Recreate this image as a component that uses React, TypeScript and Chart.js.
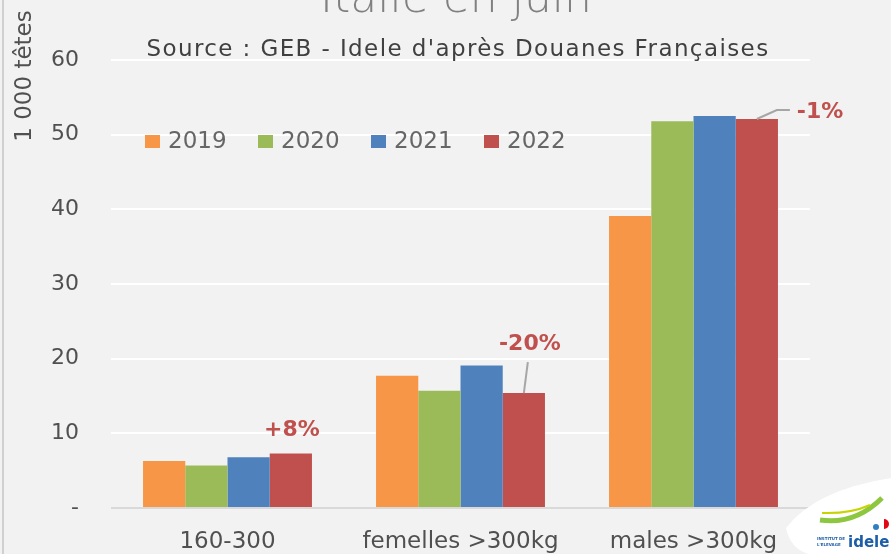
import React, { useEffect, useRef } from "react";
import { Chart, registerables } from "chart.js";

Chart.register(...registerables);

const categories = ["160-300", "femelles >300kg", "males >300kg"];
const years = ["2019", "2020", "2021", "2022"];
const values2019 = [6.3, 17.7, 39.1];
const values2020 = [5.7, 15.7, 51.8];
const values2021 = [6.8, 19.1, 52.5];
const values2022 = [7.3, 15.4, 52.1];
const colors = ["#f79646", "#9bbb59", "#4f81bd", "#c0504d"];
const changeLabels = ["+8%", "-20%", "-1%"];
const yTicks = [0, 10, 20, 30, 40, 50, 60];

const FONT = "'DejaVu Sans', sans-serif";
const TEXT = "#505050";

const decor = {
  id: "decor",
  beforeDraw(chart: any) {
    const { ctx, width, height } = chart;
    ctx.save();
    ctx.fillStyle = "#f2f2f2";
    ctx.fillRect(0, 0, width, height);
    ctx.fillStyle = "#d0d0d0";
    ctx.fillRect(2, 0, 2, height);
    ctx.restore();
  },
  afterDraw(chart: any) {
    const { ctx, chartArea } = chart;
    ctx.save();
    // title (cut off at top)
    ctx.fillStyle = "#808080";
    ctx.font = `200 44px ${FONT}`;
    ctx.textAlign = "center";
    ctx.textBaseline = "alphabetic";
    ctx.fillText("Italie en juin", 456, 12);
    // subtitle
    ctx.fillStyle = "#404040";
    ctx.font = `23px ${FONT}`;
    ctx.textBaseline = "middle";
    (ctx as any).letterSpacing = "1.4px";
    ctx.fillText("Source : GEB - Idele d'après Douanes Françaises", 458, 50);
    (ctx as any).letterSpacing = "0px";
    // y title
    ctx.save();
    ctx.translate(25, 76);
    ctx.rotate(-Math.PI / 2);
    ctx.fillStyle = TEXT;
    ctx.font = `23px ${FONT}`;
    ctx.fillText("1 000 têtes", 0, 0);
    ctx.restore();
    // legend
    const ly = chartArea.top + 81;
    chart.data.datasets.forEach((ds: any, i: number) => {
      const x = 145 + i * 113;
      ctx.fillStyle = ds.backgroundColor;
      ctx.fillRect(x, ly - 6, 15, 13);
      ctx.fillStyle = "#666666";
      ctx.font = `23px ${FONT}`;
      ctx.textAlign = "left";
      ctx.fillText(ds.label, x + 23, ly + 1);
    });
    // annotations on 2022 bars
    const meta = chart.getDatasetMeta(3);
    const bars = meta.data;
    ctx.fillStyle = "#c0504d";
    ctx.font = `bold 22px ${FONT}`;
    ctx.textAlign = "center";
    ctx.fillText(changeLabels[0], bars[0].x + 1, bars[0].y - 23);
    ctx.strokeStyle = "#a6a6a6";
    ctx.lineWidth = 2;
    ctx.beginPath();
    ctx.moveTo(bars[1].x, bars[1].y);
    ctx.lineTo(bars[1].x + 4, bars[1].y - 31);
    ctx.stroke();
    ctx.fillText(changeLabels[1], bars[1].x + 6, bars[1].y - 49);
    ctx.beginPath();
    ctx.moveTo(bars[2].x, bars[2].y);
    ctx.lineTo(bars[2].x + 20, bars[2].y - 9);
    ctx.lineTo(bars[2].x + 33, bars[2].y - 9);
    ctx.stroke();
    ctx.textAlign = "left";
    ctx.fillText(changeLabels[2], bars[2].x + 40, bars[2].y - 7);
    // logo
    ctx.fillStyle = "#ffffff";
    ctx.beginPath();
    ctx.moveTo(891, 478);
    ctx.quadraticCurveTo(815, 490, 786, 528);
    ctx.quadraticCurveTo(790, 548, 808, 554);
    ctx.lineTo(891, 554);
    ctx.closePath();
    ctx.fill();
    ctx.strokeStyle = "#8dc63f";
    ctx.lineWidth = 5;
    ctx.beginPath();
    ctx.moveTo(820, 520);
    ctx.quadraticCurveTo(855, 525, 882, 498);
    ctx.stroke();
    ctx.strokeStyle = "#c8d400";
    ctx.lineWidth = 2;
    ctx.beginPath();
    ctx.moveTo(822, 513);
    ctx.quadraticCurveTo(850, 514, 870, 505);
    ctx.stroke();
    ctx.fillStyle = "#e30613";
    ctx.beginPath();
    ctx.arc(884, 524, 5, -Math.PI / 2, Math.PI / 2);
    ctx.fill();
    ctx.fillStyle = "#2f7fc1";
    ctx.beginPath();
    ctx.arc(876, 527, 3, 0, Math.PI * 2);
    ctx.fill();
    ctx.fillStyle = "#1d5ea8";
    ctx.font = `bold 15px ${FONT}`;
    ctx.textAlign = "left";
    ctx.fillText("idele", 848, 543);
    ctx.font = `bold 4px ${FONT}`;
    ctx.fillText("INSTITUT DE", 817, 539);
    ctx.fillText("L'ELEVAGE", 817, 545);
    ctx.restore();
  },
};

export default function App() {
  const ref = useRef<HTMLCanvasElement>(null);
  useEffect(() => {
    document.body.style.margin = "0";
    const series = [values2019, values2020, values2021, values2022];
    const chart = new Chart(ref.current!, {
      type: "bar",
      data: {
        labels: categories,
        datasets: years.map((y, i) => ({
          label: y,
          data: series[i],
          backgroundColor: colors[i],
          borderWidth: 0,
          categoryPercentage: 0.725,
          barPercentage: 1,
        })),
      },
      plugins: [decor],
      options: {
        animation: false,
        responsive: false,
        devicePixelRatio: 1,
        layout: { padding: { top: 60, right: 81, left: 0, bottom: 0 } },
        plugins: {
          legend: { display: false },
          title: { display: false },
          tooltip: { enabled: false },
        },
        scales: {
          x: {
            grid: { display: false },
            border: { display: false },
            ticks: {
              color: TEXT,
              font: { family: FONT, size: 23 },
              padding: 12,
              maxRotation: 0,
            },
            afterFit(scale: any) {
              scale.height = 46;
            },
          },
          y: {
            min: 0,
            max: 60,
            afterBuildTicks(scale: any) {
              scale.ticks = yTicks.map((v) => ({ value: v }));
            },
            border: { display: false },
            grid: {
              color: (c: any) => (c.tick && c.tick.value === 0 ? "#d9d9d9" : "#ffffff"),
              lineWidth: 2,
              drawTicks: false,
            },
            ticks: {
              color: TEXT,
              font: { family: FONT, size: 22 },
              padding: 32,
              callback: (v: any) => (Number(v) === 0 ? "-" : String(v)),
            },
            afterFit(scale: any) {
              scale.width = 111;
            },
          },
        },
      },
    });
    return () => chart.destroy();
  }, []);
  return <canvas ref={ref} width={891} height={554} style={{ display: "block" }} />;
}
